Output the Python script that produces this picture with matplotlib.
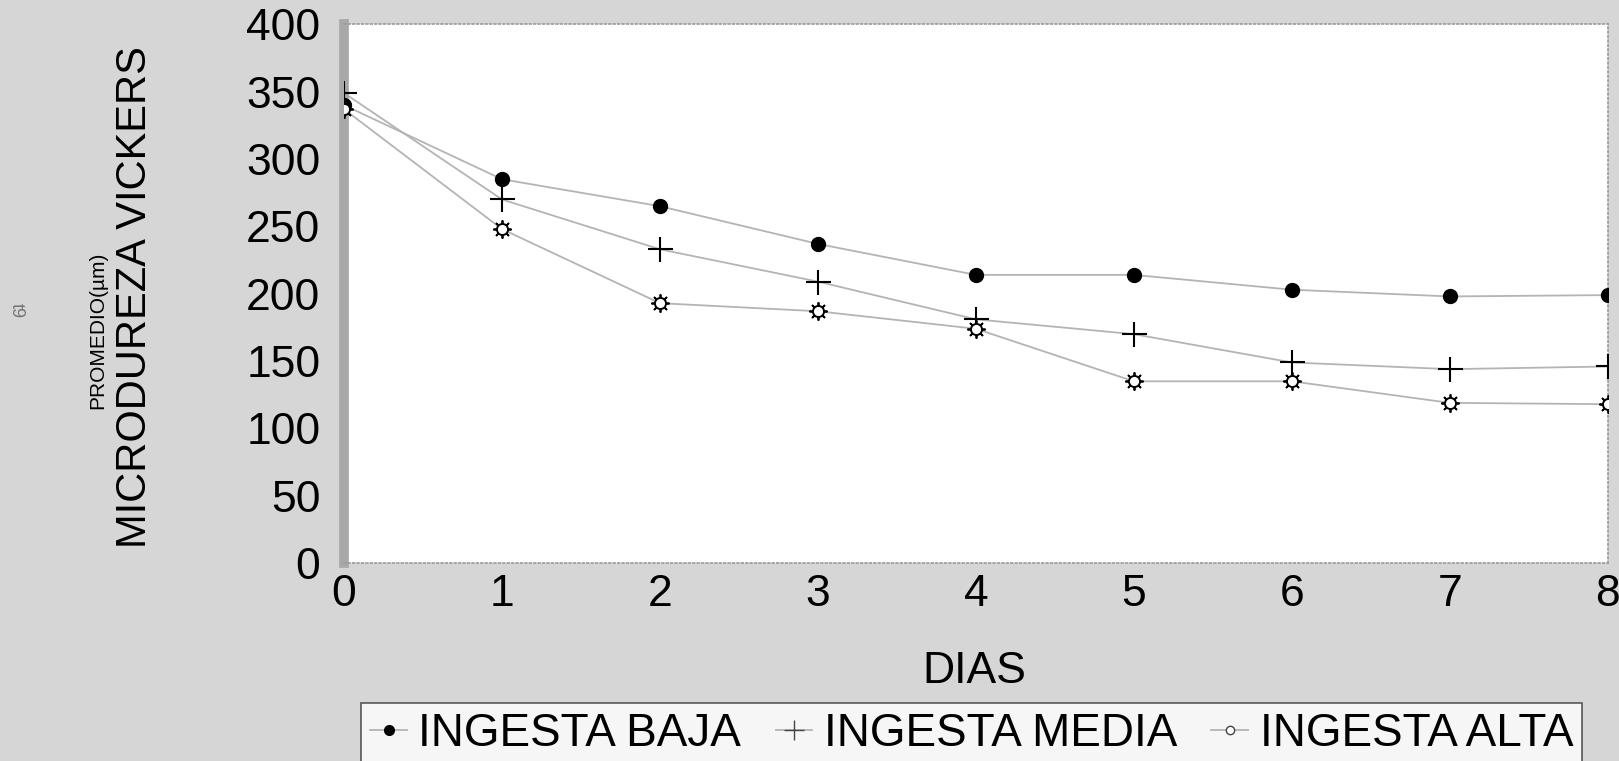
import numpy as np
import matplotlib.pyplot as plt

plt.rcParams['font.family'] = ['Liberation Sans', 'DejaVu Sans']

dias = [0, 1, 2, 3, 4, 5, 6, 7, 8]
baja = [340, 285, 265, 237, 214, 214, 203, 198, 199]
media = [349, 270, 233, 209, 181, 170, 149, 144, 146]
alta = [337, 248, 193, 187, 174, 135, 135, 119, 118]
yticks = [0, 50, 100, 150, 200, 250, 300, 350, 400]

fig = plt.figure(figsize=(16.19, 7.61), dpi=100, facecolor='#d6d6d6')
ax = fig.add_axes([0.2125, 0.260, 0.7805, 0.708])
ax.set_facecolor('white')

linecol = '#b4b4b4'
ax.plot(dias, baja, color=linecol, lw=1.3, zorder=2)
ax.plot(dias, media, color=linecol, lw=1.3, zorder=2)
ax.plot(dias, alta, color=linecol, lw=1.3, zorder=2)

# marcadores
ax.plot(dias, baja, ls='none', marker='o', ms=10, color='black', zorder=4)
ax.plot(dias, media, ls='none', marker='+', ms=18, mew=1.5, color='black', zorder=4)
ax.plot(dias, alta, ls='none', marker=(8, 2, 0), ms=13, mew=1.3, color='black', zorder=4)
ax.plot(dias, alta, ls='none', marker='o', ms=8, mew=1.4, mfc='white', mec='black', zorder=5)

ax.set_xlim(0, 8)
ax.set_ylim(0, 400)
ax.set_xticks(dias)
ax.set_yticks(yticks)
ax.tick_params(axis='both', length=0, labelsize=32)
ax.tick_params(axis='y', pad=17)
ax.tick_params(axis='x', pad=8)

for s in ['top', 'right', 'bottom']:
    ax.spines[s].set_color('#9a9a9a')
    ax.spines[s].set_linestyle(':')
    ax.spines[s].set_linewidth(1.2)
ax.spines['left'].set_color('#a8a8a8')
ax.spines['left'].set_linewidth(7)

fig.text(0.0835, 0.610, 'MICRODUREZA VICKERS', rotation=90, fontsize=30,
         ha='center', va='center')
fig.text(0.0605, 0.566, 'PROMEDIO(µm)', rotation=90, fontsize=15,
         ha='center', va='center')
fig.text(0.010, 0.592, 't9', rotation=-90, fontsize=13, color='#777777',
         ha='center', va='center')
fig.text(0.602, 0.118, 'DIAS', fontsize=32, ha='center', va='center')

h1, = ax.plot([], [], color=linecol, lw=1.3, marker='o', ms=7, mfc='black', mec='black')
h2, = ax.plot([], [], color=linecol, lw=1.3, marker='+', ms=14, mew=1.0, mec='#444444')
h3, = ax.plot([], [], color=linecol, lw=1.3, marker='o', ms=6, mew=1.0, mfc='white', mec='#444444')
leg = fig.legend([h1, h2, h3], ['INGESTA BAJA', 'INGESTA MEDIA', 'INGESTA ALTA'],
                 loc='upper left', bbox_to_anchor=(361 / 1619, 1 - 703 / 761),
                 ncol=3, fontsize=33, frameon=True,
                 fancybox=False, handlelength=0.8, handletextpad=0.25,
                 columnspacing=0.75, borderpad=0.2, borderaxespad=0)
leg.get_frame().set_edgecolor('#333333')
leg.get_frame().set_linewidth(1.2)
leg.get_frame().set_facecolor('white')

fig.savefig('out.png', dpi=100, facecolor=fig.get_facecolor())
